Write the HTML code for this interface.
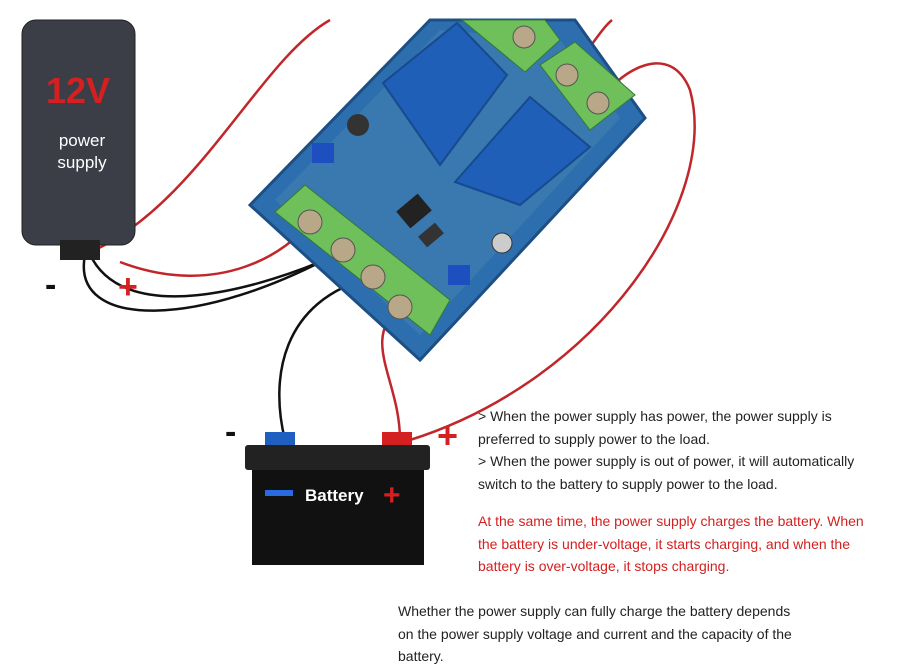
<!DOCTYPE html>
<html><head><meta charset="utf-8"><style>
body{margin:0;background:#fff;width:920px;height:672px;overflow:hidden;position:relative;font-family:"Liberation Sans",sans-serif}
.t{position:absolute;font-size:14px;line-height:22.5px;color:#222}
</style></head><body>
<svg width="920" height="672" style="position:absolute;left:0;top:0">
<!-- wires behind -->
<path d="M95 250 C 200 200, 260 60, 330 20" stroke="#c0262a" stroke-width="2.5" fill="none"/>
<path d="M120 262 C 220 300, 290 250, 310 222" stroke="#c0262a" stroke-width="2.5" fill="none"/>
<path d="M85 255 C 70 330, 200 330, 343 250" stroke="#111" stroke-width="2.5" fill="none"/>
<path d="M88 250 C 120 330, 260 290, 343 252" stroke="#111" stroke-width="2.5" fill="none"/>
<path d="M373 277 C 280 300, 270 380, 285 440" stroke="#111" stroke-width="2.5" fill="none"/>
<path d="M400 307 C 360 340, 400 380, 400 440" stroke="#c0262a" stroke-width="2.5" fill="none"/>
<path d="M410 440 C 600 380, 720 200, 690 90 C 670 40, 620 70, 598 103" stroke="#c0262a" stroke-width="2.5" fill="none"/>
<path d="M567 75 C 590 50, 600 30, 612 20" stroke="#c0262a" stroke-width="2.5" fill="none"/>
<path d="M524 37 L545 20" stroke="#111" stroke-width="2.5"/>
<!-- board -->
<polygon points="250,205 420,360 645,118 575,20 430,20" fill="#2d6fae" stroke="#1d4f85" stroke-width="3"/>
<polygon points="275,200 420,335 620,118 560,40 440,30" fill="#3a78b0"/>
<!-- relays -->
<polygon points="383,83 440,165 507,75 457,23" fill="#1f5fb8" stroke="#174a8f" stroke-width="2"/>
<polygon points="455,182 520,205 590,147 530,97" fill="#1f5fb8" stroke="#174a8f" stroke-width="2"/>
<!-- terminal blocks -->
<polygon points="275,212 430,335 450,300 305,185" fill="#6fbf5a" stroke="#2f7a35"/>
<circle cx="310" cy="222" r="12" fill="#b8a888" stroke="#555"/>
<circle cx="343" cy="250" r="12" fill="#b8a888" stroke="#555"/>
<circle cx="373" cy="277" r="12" fill="#b8a888" stroke="#555"/>
<circle cx="400" cy="307" r="12" fill="#b8a888" stroke="#555"/>
<polygon points="462,20 525,72 560,40 545,20" fill="#6fbf5a" stroke="#2f7a35"/>
<polygon points="540,65 590,130 635,95 575,42" fill="#6fbf5a" stroke="#2f7a35"/>
<circle cx="524" cy="37" r="11" fill="#b8a888" stroke="#555"/>
<circle cx="567" cy="75" r="11" fill="#b8a888" stroke="#555"/>
<circle cx="598" cy="103" r="11" fill="#b8a888" stroke="#555"/>
<rect x="400" y="200" width="28" height="22" fill="#222" transform="rotate(-40 414 211)"/>
<rect x="420" y="228" width="22" height="14" fill="#333" transform="rotate(-40 431 235)"/>
<circle cx="358" cy="125" r="11" fill="#333"/>
<circle cx="502" cy="243" r="10" fill="#ccc" stroke="#333"/>
<rect x="312" y="143" width="22" height="20" fill="#1e4fc0"/>
<rect x="448" y="265" width="22" height="20" fill="#1e4fc0"/>
<!-- power supply -->
<rect x="22" y="20" width="113" height="225" rx="14" fill="#3c3e47" stroke="#222"/>
<rect x="60" y="240" width="40" height="20" fill="#222"/>
<text x="78" y="103" fill="#d42020" font-size="36" font-weight="bold" text-anchor="middle" font-family="Liberation Sans">12V</text>
<text x="82" y="146" fill="#fff" font-size="17" text-anchor="middle" font-family="Liberation Sans">power</text>
<text x="82" y="168" fill="#fff" font-size="17" text-anchor="middle" font-family="Liberation Sans">supply</text>
<text x="45" y="296" font-size="34" font-weight="bold" fill="#111" font-family="Liberation Sans">-</text>
<text x="118" y="298" font-size="34" font-weight="bold" fill="#d42020" font-family="Liberation Sans">+</text>
<!-- battery -->
<rect x="265" y="432" width="30" height="16" fill="#1e5fc0"/>
<rect x="382" y="432" width="30" height="16" fill="#d42020"/>
<rect x="245" y="445" width="185" height="25" fill="#222" rx="3"/>
<rect x="252" y="470" width="172" height="95" fill="#111"/>
<rect x="265" y="490" width="28" height="6" fill="#2a6ae0"/>
<text x="305" y="501" fill="#fff" font-size="17" font-weight="bold" font-family="Liberation Sans">Battery</text>
<text x="383" y="505" fill="#d42020" font-size="30" font-weight="bold" font-family="Liberation Sans">+</text>
<text x="225" y="443" font-size="34" font-weight="bold" fill="#111" font-family="Liberation Sans">-</text>
<text x="437" y="448" font-size="36" font-weight="bold" fill="#d42020" font-family="Liberation Sans">+</text>
</svg>
<div class="t" style="left:478px;top:405px;width:430px">&gt; When the power supply has power, the power supply is<br>preferred to supply power to the load.<br>&gt; When the power supply is out of power, it will automatically<br>switch to the battery to supply power to the load.</div>
<div class="t" style="left:478px;top:510px;width:430px;color:#d42020">At the same time, the power supply charges the battery. When<br>the battery is under-voltage, it starts charging, and when the<br>battery is over-voltage, it stops charging.</div>
<div class="t" style="left:398px;top:600px;width:500px">Whether the power supply can fully charge the battery depends<br>on the power supply voltage and current and the capacity of the<br>battery.</div>
</body></html>
